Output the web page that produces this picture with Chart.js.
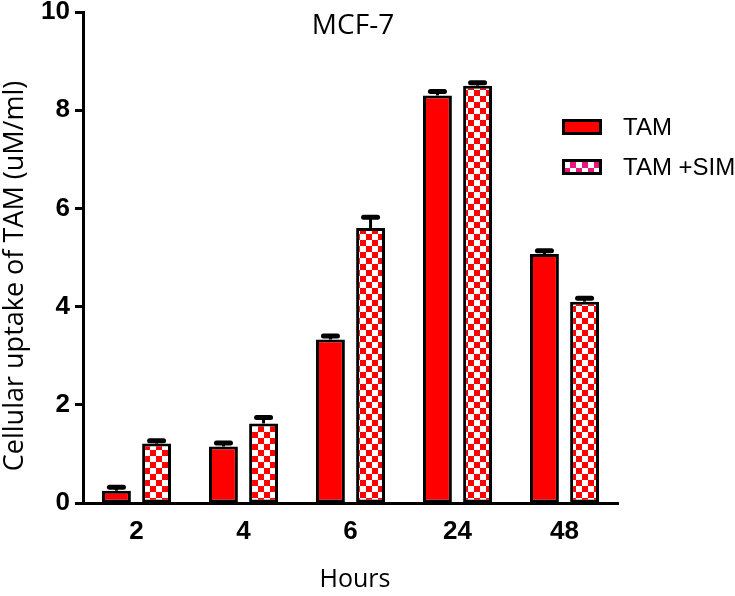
<!DOCTYPE html>
<html>
<head>
<meta charset="utf-8">
<script src="https://cdn.jsdelivr.net/npm/chart.js@4"></script>
<style>
  html, body { margin: 0; padding: 0; background: #fff; }
  #wrap { width: 735px; height: 596px; }
</style>
</head>
<body>
<div id="wrap"><canvas id="uptakeChart" width="735" height="596"></canvas></div>
<script>
const hours = ["2", "4", "6", "24", "48"];
const tamValues = [0.25, 1.15, 3.33, 8.3, 5.07];
const tamErrors = [0.07, 0.07, 0.07, 0.08, 0.07];
const simValues = [1.21, 1.62, 5.6, 8.5, 4.1];
const simErrors = [0.06, 0.12, 0.22, 0.06, 0.07];
const yTicks = [0, 2, 4, 6, 8, 10];

// checkerboard fill like the prism style bars
function makeChecker(colorA, colorB, size) {
  const c = document.createElement("canvas");
  c.width = size * 2;
  c.height = size * 2;
  const g = c.getContext("2d");
  g.fillStyle = colorB;
  g.fillRect(0, 0, size * 2, size * 2);
  g.fillStyle = colorA;
  g.fillRect(0, 0, size, size);
  g.fillRect(size, size, size, size);
  return g.createPattern(c, "repeat");
}

const ctx = document.getElementById("uptakeChart").getContext("2d");
const redChecker = makeChecker("#ff0000", "#ffffff", 6);
const pinkChecker = makeChecker("#e8177f", "#ffffff", 6);

const errorBars = {
  id: "errorBars",
  afterDatasetsDraw(chart) {
    const g = chart.ctx;
    const yScale = chart.scales.y;
    const errs = [tamErrors, simErrors];
    chart.data.datasets.forEach((ds, i) => {
      const meta = chart.getDatasetMeta(i);
      meta.data.forEach((bar, j) => {
        const top = yScale.getPixelForValue(ds.data[j]);
        const yErr = yScale.getPixelForValue(ds.data[j] + errs[i][j]);
        g.save();
        g.strokeStyle = "#000";
        g.lineWidth = 3;
        g.beginPath();
        g.moveTo(bar.x, top);
        g.lineTo(bar.x, yErr);
        g.stroke();
        g.lineWidth = 5;
        g.lineCap = "round";
        g.beginPath();
        g.moveTo(bar.x - 7, yErr);
        g.lineTo(bar.x + 7, yErr);
        g.stroke();
        g.restore();
      });
    });
  }
};

const extras = {
  id: "extras",
  afterDraw(chart) {
    const g = chart.ctx;
    g.save();
    g.fillStyle = "#000";
    g.textAlign = "center";
    g.textBaseline = "middle";
    // title inside the plot
    g.font = "28px 'Open Sans'";
    g.fillText("MCF-7", 353, 26);
    // axis titles
    g.font = "25px 'Open Sans'";
    g.fillText("Hours", 355, 580);
    g.save();
    g.translate(15, 276);
    g.rotate(-Math.PI / 2);
    g.font = "27px 'Open Sans'";
    g.fillText("Cellular uptake of TAM (uM/ml)", 0, 0);
    g.restore();
    // legend
    const items = [
      { label: "TAM", fill: "#ff0000", y: 127 },
      { label: "TAM +SIM", fill: pinkChecker, y: 167 }
    ];
    g.textAlign = "left";
    g.font = "24px 'Liberation Sans'";
    items.forEach(it => {
      g.fillStyle = it.fill;
      g.fillRect(562, it.y - 8, 40, 16);
      g.strokeStyle = "#000";
      g.lineWidth = 3;
      g.strokeRect(563.5, it.y - 6.5, 37, 13);
      g.fillStyle = "#000";
      g.fillText(it.label, 623, it.y + 1);
    });
    g.restore();
  }
};

new Chart(ctx, {
  type: "bar",
  data: {
    labels: hours,
    datasets: [
      {
        label: "TAM",
        data: tamValues,
        backgroundColor: "#ff0000",
        borderColor: "#000",
        borderWidth: 3,
        borderSkipped: false
      },
      {
        label: "TAM +SIM",
        data: simValues,
        backgroundColor: redChecker,
        borderColor: "#000",
        borderWidth: 3,
        borderSkipped: false
      }
    ]
  },
  options: {
    responsive: false,
    animation: false,
    devicePixelRatio: 1,
    layout: { padding: { top: 12, right: 117, left: 0, bottom: 0 } },
    datasets: { bar: { categoryPercentage: 0.75, barPercentage: 0.72 } },
    plugins: {
      legend: { display: false },
      tooltip: { enabled: false }
    },
    scales: {
      x: {
        grid: { display: false },
        border: { display: true, color: "#000", width: 3 },
        ticks: {
          color: "#000",
          padding: 8,
          font: { family: "'Liberation Sans'", size: 26, weight: "bold", lineHeight: 1 }
        },
        afterFit(scale) { scale.height = 93; }
      },
      y: {
        min: 0,
        max: 10,
        afterBuildTicks(scale) { scale.ticks = yTicks.map(v => ({ value: v })); },
        grid: {
          drawOnChartArea: false,
          drawTicks: true,
          tickLength: 8,
          tickWidth: 3,
          tickColor: "#000"
        },
        border: { display: true, color: "#000", width: 3 },
        ticks: {
          color: "#000",
          padding: 5,
          font: { family: "'Liberation Sans'", size: 26, weight: "bold", lineHeight: 0.9 }
        },
        afterFit(scale) {
          scale.width = 83;
          scale.paddingTop = 0;
          scale.paddingBottom = 0;
        }
      }
    }
  },
  plugins: [errorBars, extras]
});
</script>
</body>
</html>
